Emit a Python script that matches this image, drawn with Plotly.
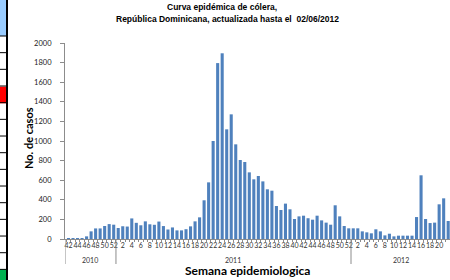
import plotly.graph_objects as go

# ---- data ----
years_2010_weeks = list(range(42, 53))
cases_2010 = [2, 2, 3, 10, 27, 78, 108, 108, 133, 152, 146]

years_2011_weeks = list(range(1, 53))
cases_2011 = [112, 130, 127, 210, 165, 140, 180, 150, 145, 178,
              132, 97, 118, 88, 88, 100, 129, 180, 221, 395,
              578, 1000, 1795, 1895, 1119, 1272, 966, 806, 786, 680,
              609, 643, 588, 507, 493, 337, 296, 361, 303, 204,
              231, 238, 212, 197, 238, 190, 167, 146, 344, 231,
              133, 109]

years_2012_weeks = list(range(1, 23))
cases_2012 = [109, 109, 78, 68, 58, 99, 78, 37, 54, 27,
              34, 34, 34, 34, 224, 650, 204, 163, 167, 354,
              415, 184]

year_labels = ["2010", "2011", "2012"]
y_ticks = list(range(0, 2001, 200))

# ---- build ----
weeks = years_2010_weeks + years_2011_weeks + years_2012_weeks
cases = cases_2010 + cases_2011 + cases_2012
idx = list(range(len(weeks)))
tickvals = [i for i in idx if weeks[i] % 2 == 0]
ticktext = [str(weeks[i]) for i in tickvals]

W, H = 450, 280
L, R, T, B = 65, 0, 43, 41
pw = W - L - R
ph = H - T - B
step = 4.52
x0 = -(68.5 - L) / step
x1 = x0 + pw / step

def px(p):
    return (p - L) / pw

def py(q):
    return (H - B - q) / ph

fig = go.Figure()
fig.add_trace(go.Bar(x=idx, y=cases, marker=dict(color="#4F81BD", line=dict(width=0)),
                     width=0.68, showlegend=False))

n10 = len(years_2010_weeks)
n11 = len(years_2011_weeks)
n12 = len(years_2012_weeks)
b1 = n10 - 0.5
b2 = n10 + n11 - 0.5
b3 = n10 + n11 + n12 - 0.5

shapes = []
grey = "#8C8C8C"
for xb in [x0, b1, b2]:
    shapes.append(dict(type="line", xref="x", yref="paper", x0=xb, x1=xb,
                       y0=0, y1=py(264), line=dict(color=grey, width=1)))

# left table fragment
shapes.append(dict(type="rect", xref="paper", yref="paper", x0=px(0), x1=px(7),
                   y0=py(0), y1=py(36), fillcolor="#99CCFF", line=dict(width=0), layer="above"))
shapes.append(dict(type="rect", xref="paper", yref="paper", x0=px(0), x1=px(7),
                   y0=py(86.7), y1=py(103.3), fillcolor="#FF0000", line=dict(width=0), layer="above"))
shapes.append(dict(type="rect", xref="paper", yref="paper", x0=px(0), x1=px(7),
                   y0=py(269.3), y1=py(280), fillcolor="#00B050", line=dict(width=0), layer="above"))
for k in range(15):
    yy = 36 + k * 16.67
    shapes.append(dict(type="line", xref="paper", yref="paper", x0=px(0), x1=px(7),
                       y0=py(yy), y1=py(yy), line=dict(color="black", width=1), layer="above"))
shapes.append(dict(type="line", xref="paper", yref="paper", x0=px(7), x1=px(7),
                   y0=py(0), y1=py(280), line=dict(color="black", width=2), layer="above"))

tfont = "Liberation Sans, Arial, sans-serif"
lfont = "Lato, Open Sans, sans-serif"
annotations = [
    dict(text="<b>Curva epidémica de cólera,</b>", x=px(222), y=py(7), xref="paper", yref="paper",
         showarrow=False, xanchor="center", yanchor="middle", font=dict(family=tfont, size=8.5, color="black")),
    dict(text="<b>República Dominicana, actualizada hasta el  02/06/2012</b>", x=px(227), y=py(19),
         xref="paper", yref="paper", showarrow=False, xanchor="center", yanchor="middle",
         font=dict(family=tfont, size=8.5, color="black")),
    dict(text="<b>No. de casos</b>", x=px(28), y=py(138), xref="paper", yref="paper", textangle=-90,
         showarrow=False, xanchor="center", yanchor="middle", font=dict(family=lfont, size=11, color="black")),
    dict(text="<b>Semana epidemiologica</b>", x=px(247), y=py(270), xref="paper", yref="paper",
         showarrow=False, xanchor="center", yanchor="middle", font=dict(family=lfont, size=12, color="black")),
]
for lab, c in zip(year_labels, [(x0 + b1) / 2, (b1 + b2) / 2, (b2 + b3) / 2]):
    annotations.append(dict(text=lab, x=c, y=py(260), xref="x", yref="paper", showarrow=False,
                            xanchor="center", yanchor="middle",
                            font=dict(family=lfont, size=7, color="#333333")))

fig.update_layout(
    width=W, height=H,
    margin=dict(l=L, r=R, t=T, b=B, pad=0),
    paper_bgcolor="white", plot_bgcolor="white",
    bargap=0.3,
    shapes=shapes, annotations=annotations,
    xaxis=dict(range=[x0, x1], tickmode="array", tickvals=tickvals, ticktext=ticktext,
               tickangle=0, tickfont=dict(family=lfont, size=7, color="#333333"),
               showline=True, linecolor=grey, linewidth=1, ticks="", showgrid=False, zeroline=False,
               minor=dict(tickmode="linear", tick0=0.5, dtick=1, ticks="outside", ticklen=2,
                          tickcolor=grey, showgrid=False)),
    yaxis=dict(range=[0, 2000], tickmode="array", tickvals=y_ticks,
               tickfont=dict(family=lfont, size=7.5, color="#222222"),
               showline=True, linecolor=grey, linewidth=1, ticks="outside", ticklen=4,
               tickcolor=grey, showgrid=False, zeroline=False, ticklabelstandoff=7),
)

fig.write_html("out.html", config={"displayModeBar": False},
               post_script="document.body.style.margin='0';document.body.style.padding='0';"
                           "document.body.style.overflow='hidden';")
